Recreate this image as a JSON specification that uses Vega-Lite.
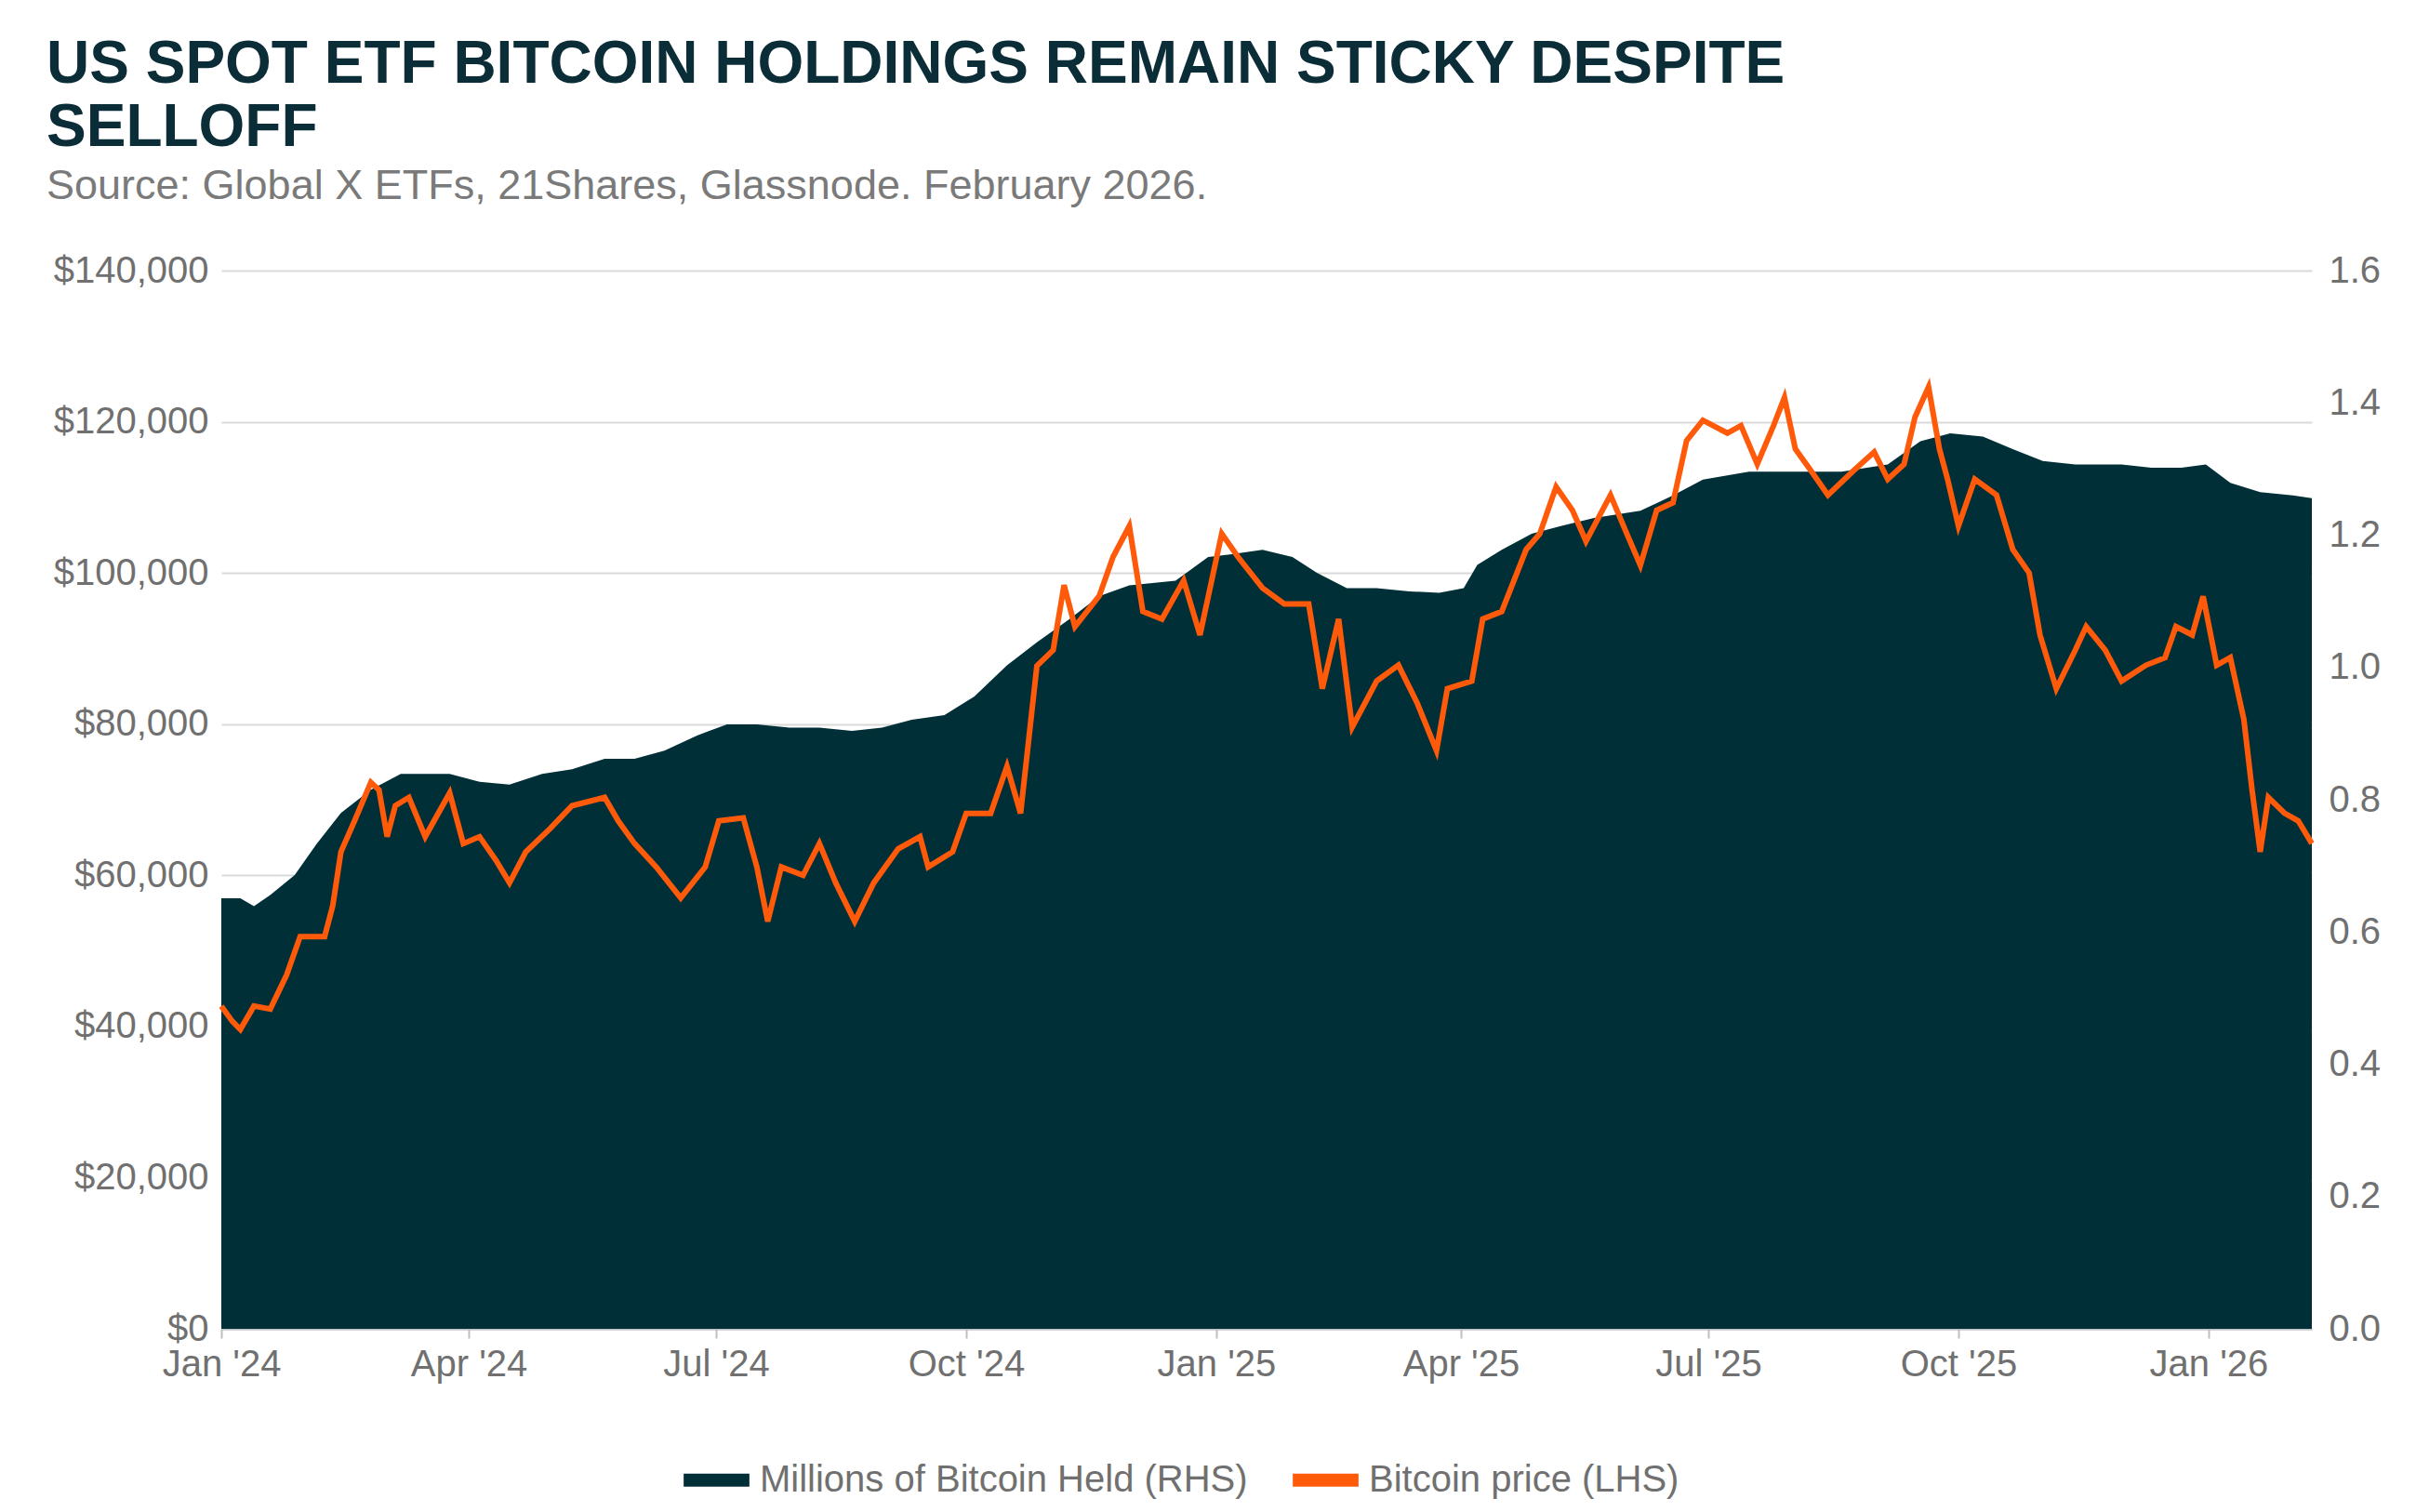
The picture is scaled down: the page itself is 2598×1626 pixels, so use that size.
{
  "$schema": "https://vega.github.io/schema/vega-lite/v6.json",
  "width": 2248,
  "height": 1138,
  "autosize": {"type": "none"},
  "padding": {"left": 238, "top": 291, "right": 112, "bottom": 197},
  "background": "white",
  "title": {
    "text": ["US SPOT ETF BITCOIN HOLDINGS REMAIN STICKY DESPITE", "SELLOFF"],
    "subtitle": "Source: Global X ETFs, 21Shares, Glassnode. February 2026.",
    "anchor": "start",
    "frame": "group",
    "dx": -188,
    "offset": 48,
    "font": "Liberation Sans",
    "fontSize": 64,
    "fontWeight": "bold",
    "color": "#0b2d37",
    "lineHeight": 68,
    "subtitleFont": "Liberation Sans",
    "subtitleFontSize": 45,
    "subtitleColor": "#7a7a7a",
    "subtitlePadding": 8
  },
  "datasets": {
    "held": [
      {"date": "2024-01-01", "btc": 0.651}, {"date": "2024-01-08", "btc": 0.651}, {"date": "2024-01-13", "btc": 0.639},
      {"date": "2024-01-19", "btc": 0.656}, {"date": "2024-01-28", "btc": 0.686}, {"date": "2024-02-05", "btc": 0.733},
      {"date": "2024-02-14", "btc": 0.78}, {"date": "2024-02-25", "btc": 0.815}, {"date": "2024-03-07", "btc": 0.839},
      {"date": "2024-03-25", "btc": 0.839}, {"date": "2024-04-05", "btc": 0.827}, {"date": "2024-04-16", "btc": 0.823},
      {"date": "2024-04-28", "btc": 0.839}, {"date": "2024-05-09", "btc": 0.846}, {"date": "2024-05-21", "btc": 0.862},
      {"date": "2024-06-01", "btc": 0.862}, {"date": "2024-06-12", "btc": 0.874}, {"date": "2024-06-24", "btc": 0.897},
      {"date": "2024-07-05", "btc": 0.914}, {"date": "2024-07-16", "btc": 0.914}, {"date": "2024-07-28", "btc": 0.909},
      {"date": "2024-08-08", "btc": 0.909}, {"date": "2024-08-20", "btc": 0.904}, {"date": "2024-08-31", "btc": 0.909},
      {"date": "2024-09-11", "btc": 0.921}, {"date": "2024-09-23", "btc": 0.928}, {"date": "2024-10-04", "btc": 0.956},
      {"date": "2024-10-16", "btc": 1.003}, {"date": "2024-10-27", "btc": 1.038}, {"date": "2024-11-08", "btc": 1.073},
      {"date": "2024-11-19", "btc": 1.108}, {"date": "2024-11-30", "btc": 1.124}, {"date": "2024-12-17", "btc": 1.131},
      {"date": "2024-12-29", "btc": 1.167}, {"date": "2025-01-06", "btc": 1.171}, {"date": "2025-01-18", "btc": 1.178},
      {"date": "2025-01-29", "btc": 1.167}, {"date": "2025-02-07", "btc": 1.143}, {"date": "2025-02-18", "btc": 1.12},
      {"date": "2025-03-01", "btc": 1.12}, {"date": "2025-03-13", "btc": 1.115}, {"date": "2025-03-24", "btc": 1.113},
      {"date": "2025-04-02", "btc": 1.12}, {"date": "2025-04-07", "btc": 1.155}, {"date": "2025-04-16", "btc": 1.178},
      {"date": "2025-04-27", "btc": 1.202}, {"date": "2025-05-08", "btc": 1.214}, {"date": "2025-05-20", "btc": 1.226},
      {"date": "2025-06-06", "btc": 1.237}, {"date": "2025-06-18", "btc": 1.26}, {"date": "2025-06-29", "btc": 1.284},
      {"date": "2025-07-16", "btc": 1.296}, {"date": "2025-08-02", "btc": 1.296}, {"date": "2025-08-19", "btc": 1.296},
      {"date": "2025-09-05", "btc": 1.307}, {"date": "2025-09-17", "btc": 1.342}, {"date": "2025-09-28", "btc": 1.354},
      {"date": "2025-10-10", "btc": 1.349}, {"date": "2025-10-21", "btc": 1.33}, {"date": "2025-11-01", "btc": 1.312},
      {"date": "2025-11-13", "btc": 1.307}, {"date": "2025-11-30", "btc": 1.307}, {"date": "2025-12-11", "btc": 1.302},
      {"date": "2025-12-22", "btc": 1.302}, {"date": "2025-12-31", "btc": 1.307}, {"date": "2026-01-09", "btc": 1.279},
      {"date": "2026-01-20", "btc": 1.265}, {"date": "2026-02-01", "btc": 1.26}, {"date": "2026-02-08", "btc": 1.256}
    ],
    "price": [
      {"date": "2024-01-01", "usd": 42700}, {"date": "2024-01-05", "usd": 40700}, {"date": "2024-01-08", "usd": 39600},
      {"date": "2024-01-13", "usd": 42700}, {"date": "2024-01-19", "usd": 42300}, {"date": "2024-01-25", "usd": 46800},
      {"date": "2024-01-30", "usd": 51900}, {"date": "2024-02-08", "usd": 51900}, {"date": "2024-02-11", "usd": 56000},
      {"date": "2024-02-14", "usd": 63100}, {"date": "2024-02-19", "usd": 67200}, {"date": "2024-02-25", "usd": 72300},
      {"date": "2024-02-28", "usd": 71300}, {"date": "2024-03-02", "usd": 65100}, {"date": "2024-03-05", "usd": 69200},
      {"date": "2024-03-10", "usd": 70300}, {"date": "2024-03-16", "usd": 65100}, {"date": "2024-03-25", "usd": 70900},
      {"date": "2024-03-30", "usd": 64200}, {"date": "2024-04-05", "usd": 65100}, {"date": "2024-04-11", "usd": 62000},
      {"date": "2024-04-16", "usd": 59000}, {"date": "2024-04-22", "usd": 63100}, {"date": "2024-05-01", "usd": 66200},
      {"date": "2024-05-09", "usd": 69200}, {"date": "2024-05-21", "usd": 70300}, {"date": "2024-05-26", "usd": 67200},
      {"date": "2024-06-01", "usd": 64200}, {"date": "2024-06-09", "usd": 61100}, {"date": "2024-06-18", "usd": 57000},
      {"date": "2024-06-27", "usd": 61100}, {"date": "2024-07-02", "usd": 67200}, {"date": "2024-07-11", "usd": 67600},
      {"date": "2024-07-16", "usd": 61100}, {"date": "2024-07-20", "usd": 53900}, {"date": "2024-07-25", "usd": 61100},
      {"date": "2024-08-02", "usd": 60000}, {"date": "2024-08-08", "usd": 64200}, {"date": "2024-08-14", "usd": 59000},
      {"date": "2024-08-21", "usd": 53900}, {"date": "2024-08-28", "usd": 59000}, {"date": "2024-09-06", "usd": 63500},
      {"date": "2024-09-14", "usd": 65100}, {"date": "2024-09-17", "usd": 61100}, {"date": "2024-09-26", "usd": 63100},
      {"date": "2024-10-01", "usd": 68200}, {"date": "2024-10-10", "usd": 68200}, {"date": "2024-10-16", "usd": 74400},
      {"date": "2024-10-21", "usd": 68200}, {"date": "2024-10-27", "usd": 87700}, {"date": "2024-11-02", "usd": 89800},
      {"date": "2024-11-06", "usd": 98400}, {"date": "2024-11-10", "usd": 92900}, {"date": "2024-11-19", "usd": 97000},
      {"date": "2024-11-24", "usd": 102100}, {"date": "2024-11-30", "usd": 106200}, {"date": "2024-12-05", "usd": 94900},
      {"date": "2024-12-12", "usd": 93900}, {"date": "2024-12-20", "usd": 99000}, {"date": "2024-12-26", "usd": 91800},
      {"date": "2025-01-03", "usd": 105200}, {"date": "2025-01-09", "usd": 102100}, {"date": "2025-01-18", "usd": 98000},
      {"date": "2025-01-26", "usd": 95900}, {"date": "2025-02-04", "usd": 95900}, {"date": "2025-02-09", "usd": 84700},
      {"date": "2025-02-15", "usd": 93900}, {"date": "2025-02-20", "usd": 79600}, {"date": "2025-03-01", "usd": 85700},
      {"date": "2025-03-09", "usd": 87800}, {"date": "2025-03-16", "usd": 82700}, {"date": "2025-03-23", "usd": 76500},
      {"date": "2025-03-27", "usd": 84700}, {"date": "2025-04-05", "usd": 85700}, {"date": "2025-04-09", "usd": 93900},
      {"date": "2025-04-16", "usd": 94900}, {"date": "2025-04-25", "usd": 103100}, {"date": "2025-04-30", "usd": 105200},
      {"date": "2025-05-06", "usd": 111400}, {"date": "2025-05-12", "usd": 108300}, {"date": "2025-05-17", "usd": 104200},
      {"date": "2025-05-26", "usd": 110300}, {"date": "2025-06-01", "usd": 105200}, {"date": "2025-06-06", "usd": 101000},
      {"date": "2025-06-12", "usd": 108300}, {"date": "2025-06-18", "usd": 109300}, {"date": "2025-06-23", "usd": 117500},
      {"date": "2025-06-29", "usd": 120200}, {"date": "2025-07-08", "usd": 118500}, {"date": "2025-07-13", "usd": 119500},
      {"date": "2025-07-19", "usd": 114400}, {"date": "2025-07-25", "usd": 119500}, {"date": "2025-07-29", "usd": 123200},
      {"date": "2025-08-02", "usd": 116400}, {"date": "2025-08-08", "usd": 113400}, {"date": "2025-08-14", "usd": 110300},
      {"date": "2025-08-23", "usd": 113400}, {"date": "2025-08-31", "usd": 116000}, {"date": "2025-09-05", "usd": 112400},
      {"date": "2025-09-11", "usd": 114400}, {"date": "2025-09-15", "usd": 120600}, {"date": "2025-09-20", "usd": 124600},
      {"date": "2025-09-24", "usd": 116400}, {"date": "2025-09-27", "usd": 112400}, {"date": "2025-10-01", "usd": 106200},
      {"date": "2025-10-07", "usd": 112400}, {"date": "2025-10-15", "usd": 110300}, {"date": "2025-10-21", "usd": 103100},
      {"date": "2025-10-27", "usd": 100000}, {"date": "2025-10-31", "usd": 91800}, {"date": "2025-11-06", "usd": 84700},
      {"date": "2025-11-13", "usd": 89800}, {"date": "2025-11-17", "usd": 92900}, {"date": "2025-11-24", "usd": 89800},
      {"date": "2025-11-30", "usd": 85700}, {"date": "2025-12-09", "usd": 87800}, {"date": "2025-12-16", "usd": 88800},
      {"date": "2025-12-20", "usd": 92900}, {"date": "2025-12-26", "usd": 91800}, {"date": "2025-12-30", "usd": 96900},
      {"date": "2026-01-04", "usd": 87800}, {"date": "2026-01-09", "usd": 88800}, {"date": "2026-01-14", "usd": 80600},
      {"date": "2026-01-17", "usd": 71300}, {"date": "2026-01-20", "usd": 63100}, {"date": "2026-01-23", "usd": 70300},
      {"date": "2026-01-29", "usd": 68200}, {"date": "2026-02-03", "usd": 67200}, {"date": "2026-02-08", "usd": 64200}
    ]
  },
  "config": {
    "font": "Liberation Sans",
    "view": {"stroke": null},
    "axis": {
      "labelFont": "Liberation Sans",
      "labelFontSize": 40,
      "labelColor": "#707070",
      "domain": false,
      "ticks": false,
      "labelPadding": 14,
      "title": null
    },
    "legend": {
      "labelFont": "Liberation Sans",
      "labelFontSize": 40,
      "labelColor": "#707070",
      "labelLimit": 0
    }
  },
  "encoding": {
    "x": {
      "field": "date",
      "type": "temporal",
      "scale": {"domain": ["2024-01-01", "2026-02-08"]},
      "axis": {
        "format": "%b '%y",
        "values": ["2024-01-01", "2024-04-01", "2024-07-01", "2024-10-01", "2025-01-01", "2025-04-01", "2025-07-01", "2025-10-01", "2026-01-01"],
        "labelAlign": "center",
        "grid": false,
        "domain": true,
        "domainColor": "#bfbfbf",
        "domainWidth": 2,
        "ticks": true,
        "tickColor": "#bfbfbf",
        "tickSize": 10,
        "tickWidth": 2,
        "labelPadding": 8
      }
    }
  },
  "layer": [
    {
      "data": {"name": "held"},
      "mark": {"type": "area", "interpolate": "linear"},
      "encoding": {
        "y": {
          "field": "btc",
          "type": "quantitative",
          "scale": {"domain": [0, 1.6]},
          "axis": {"orient": "right", "format": ".1f", "grid": false, "values": [0, 0.2, 0.4, 0.6, 0.8, 1.0, 1.2, 1.4, 1.6], "labelPadding": 18}
        },
        "color": {
          "datum": "Millions of Bitcoin Held (RHS)",
          "type": "nominal",
          "scale": {"domain": ["Millions of Bitcoin Held (RHS)", "Bitcoin price (LHS)"], "range": ["#002f38", "#ff5a0a"]},
          "legend": {
            "orient": "none",
            "legendX": 490,
            "legendY": 1258,
            "direction": "horizontal",
            "title": null,
            "symbolType": "stroke",
            "symbolStrokeWidth": 14,
            "symbolSize": 5000,
            "columnPadding": 20
          }
        }
      }
    },
    {
      "data": {"name": "price"},
      "mark": {"type": "line", "strokeWidth": 6, "interpolate": "linear"},
      "encoding": {
        "y": {
          "field": "usd",
          "type": "quantitative",
          "scale": {"domain": [0, 140000]},
          "axis": {"orient": "left", "format": "$,.0f", "values": [0, 20000, 40000, 60000, 80000, 100000, 120000, 140000], "grid": true, "gridColor": "#d9d9d9", "gridWidth": 2}
        },
        "color": {"datum": "Bitcoin price (LHS)", "type": "nominal"}
      }
    }
  ],
  "resolve": {"scale": {"y": "independent"}}
}
